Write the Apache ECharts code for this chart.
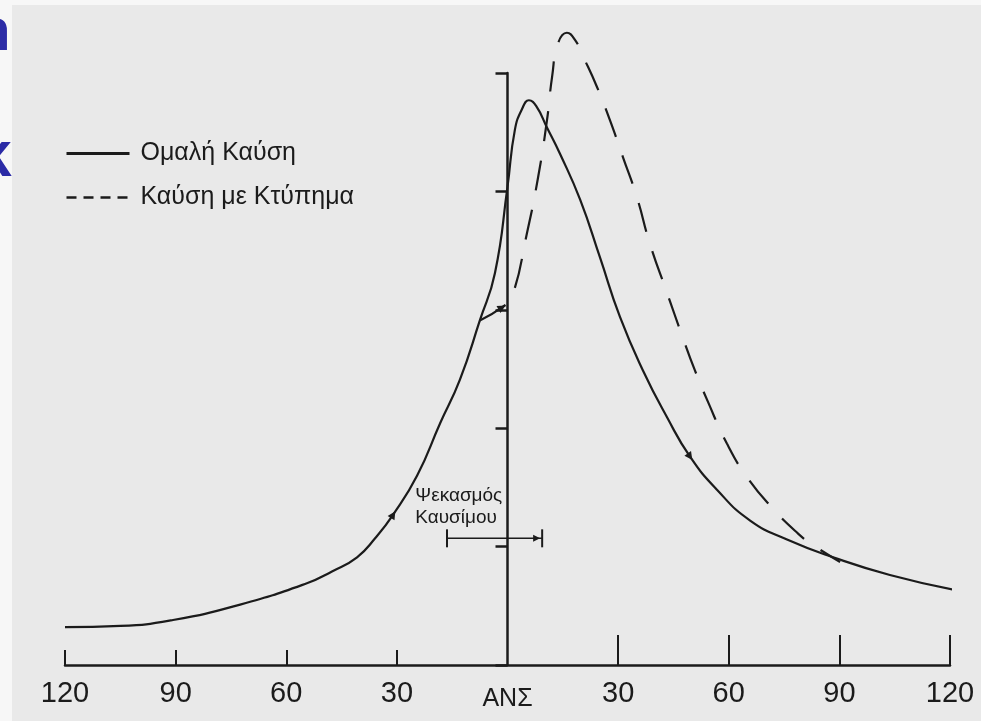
<!DOCTYPE html>
<html>
<head>
<meta charset="utf-8">
<script src="https://cdn.jsdelivr.net/npm/echarts@6/dist/echarts.min.js"></script>
<style>
  html, body { margin: 0; padding: 0; background: #e9e9e9; }
  #chart { width: 981px; height: 721px; }
</style>
</head>
<body>
<div id="chart"></div>
<script>
// γωνία στροφάλου (μοίρες από το ΑΝΣ) και πίεση (αυθαίρετες μονάδες)
const leftTicks = [-120, -90, -60, -30];
const rightTicks = [30, 60, 90, 120];

// Ομαλή Καύση
const smoothAngle = [-120, -105, -90.7, -72.5, -54.4, -47.6, -40.8, -35.9, -31, -24.5, -18.3, -12.9, -7.5, -3.4, 0, 2, 4, 5.8, 7.8, 10.7, 14.2, 19.7, 25.1, 30.5, 36.7, 43.3, 49.5, 56.8, 65.8, 75.8, 88.3, 103.7, 121.9];
const smoothPressure = [0.32, 0.33, 0.38, 0.51, 0.69, 0.79, 0.91, 1.07, 1.27, 1.6, 2.04, 2.41, 2.91, 3.31, 4.04, 4.52, 4.7, 4.77, 4.72, 4.54, 4.32, 3.93, 3.44, 2.94, 2.49, 2.09, 1.76, 1.48, 1.22, 1.06, 0.91, 0.76, 0.63];

// Καύση με Κτύπημα
const knockAngle = [-7.5, -1.5, 1.2, 5.3, 8.3, 10.7, 12.1, 13.7, 16.1, 18.3, 20.5, 24.3, 27.8, 31.3, 35.1, 38.6, 43.3, 47.6, 50.8, 54.4, 59.5, 64.9, 71.7, 78.8, 83, 90.2];
const knockPressure = [2.91, 3.02, 3.11, 3.65, 4.12, 4.6, 4.97, 5.25, 5.34, 5.28, 5.14, 4.88, 4.6, 4.29, 3.95, 3.56, 3.14, 2.76, 2.49, 2.22, 1.87, 1.59, 1.33, 1.11, 1.01, 0.87];

// Ψεκασμός Καυσίμου
const injectionAngle = [-16.4, 9.4];
const injectionLevel = 1.07;
const injectionLabelAt = [-0.6, 1.52];

const ink = '#1b1b1b';
const pair = (xs, ys) => xs.map((x, i) => [x, ys[i]]);

const chart = echarts.init(document.getElementById('chart'));
chart.setOption({
  backgroundColor: '#e9e9e9',
  animation: false,
  grid: { left: 65, right: 31, top: 73, bottom: 56 },
  legend: {
    orient: 'vertical',
    left: 60,
    top: 136,
    itemWidth: 63,
    itemHeight: 14,
    itemGap: 19,
    itemStyle: { opacity: 0 },
    textStyle: { fontFamily: 'Liberation Sans', fontSize: 25, lineHeight: 24, color: ink, padding: [0, 0, 0, 6] },
    data: [
      { name: 'Ομαλή Καύση', lineStyle: { width: 3 } },
      { name: 'Καύση με Κτύπημα', lineStyle: { width: 2.5, type: [10, 7] } }
    ]
  },
  xAxis: [
    {
      type: 'value', min: -120, max: 120, interval: 30,
      axisLine: { onZero: false, lineStyle: { color: ink, width: 2.5 } },
      axisTick: { inside: true, length: 15, customValues: leftTicks, lineStyle: { color: ink, width: 2 } },
      axisLabel: {
        margin: 14, fontFamily: 'Liberation Sans', fontSize: 29, color: ink,
        formatter: v => v === 0 ? '{a|ΑΝΣ}' : String(Math.abs(v)),
        rich: { a: { fontFamily: 'Liberation Sans', fontSize: 25, color: ink, padding: [8, 0, 0, 0] } }
      },
      splitLine: { show: false }
    },
    {
      type: 'value', min: -120, max: 120, interval: 30, position: 'bottom',
      axisLine: { show: false },
      axisTick: { inside: true, length: 30, customValues: rightTicks, lineStyle: { color: ink, width: 2 } },
      axisLabel: { show: false },
      splitLine: { show: false }
    }
  ],
  yAxis: {
    type: 'value', min: 0, max: 5, interval: 1,
    axisLine: { onZero: true, lineStyle: { color: ink, width: 2.5 } },
    axisTick: { length: 12, lineStyle: { color: ink, width: 2.5 } },
    axisLabel: { show: false },
    splitLine: { show: false }
  },
  series: [
    {
      name: 'Ομαλή Καύση', type: 'line', smooth: 0.5, symbol: 'none', clip: false,
      lineStyle: { color: ink, width: 2.2 },
      itemStyle: { color: ink },
      data: pair(smoothAngle, smoothPressure),
      markPoint: {
        symbol: 'triangle', symbolSize: 8, label: { show: false }, itemStyle: { color: ink },
        data: [
          { coord: [smoothAngle[8], smoothPressure[8]], symbolRotate: -32 },
          { coord: [smoothAngle[26], smoothPressure[26]], symbolRotate: -145 }
        ]
      }
    },
    {
      name: 'Καύση με Κτύπημα', type: 'line', smooth: 0.5, symbol: 'none', clip: false,
      lineStyle: { color: ink, width: 2.2, type: [30, 20] },
      itemStyle: { color: ink },
      data: pair(knockAngle, knockPressure),
      markPoint: {
        symbol: 'triangle', symbolSize: 8, label: { show: false }, itemStyle: { color: ink },
        data: [{ coord: [knockAngle[1], knockPressure[1]], symbolRotate: -60 }]
      }
    },
    {
      name: 'Ψεκασμός', type: 'line', symbol: 'rect', symbolSize: [2, 18], clip: false,
      showSymbol: true, legendHoverLink: false,
      lineStyle: { color: ink, width: 1.6 },
      itemStyle: { color: ink },
      data: injectionAngle.map(a => [a, injectionLevel]),
      markPoint: {
        symbol: 'triangle', symbolSize: 7, label: { show: false }, itemStyle: { color: ink },
        data: [{ coord: [injectionAngle[1] - 1.5, injectionLevel], symbolRotate: -90 }]
      }
    }
  ]
});

const labelPos = chart.convertToPixel({ gridIndex: 0 }, injectionLabelAt);
chart.setOption({
  graphic: [
    {
      type: 'text', left: labelPos[0] - 90, top: labelPos[1],
      style: {
        text: 'Ψεκασμός\nΚαυσίμου', fontFamily: 'Liberation Sans', fontSize: 19, lineHeight: 22,
        fill: ink, align: 'right', width: 90
      }
    },
    { type: 'rect', shape: { x: 0, y: 0, width: 12, height: 721 }, style: { fill: '#f7f7f7' } },
    { type: 'rect', shape: { x: 0, y: 0, width: 981, height: 5 }, style: { fill: '#f7f7f7' } },
    {
      type: 'text', x: -26, y: 63,
      style: { text: 'n', fontFamily: 'Liberation Sans', fontWeight: 'bold', fontSize: 60, fill: '#2b2ba6', verticalAlign: 'bottom' }
    },
    {
      type: 'text', x: -24, y: 190,
      style: { text: 'κ', fontFamily: 'Liberation Sans', fontWeight: 'bold', fontSize: 64, fill: '#2b2ba6', verticalAlign: 'bottom' }
    }
  ]
});
</script>
</body>
</html>
